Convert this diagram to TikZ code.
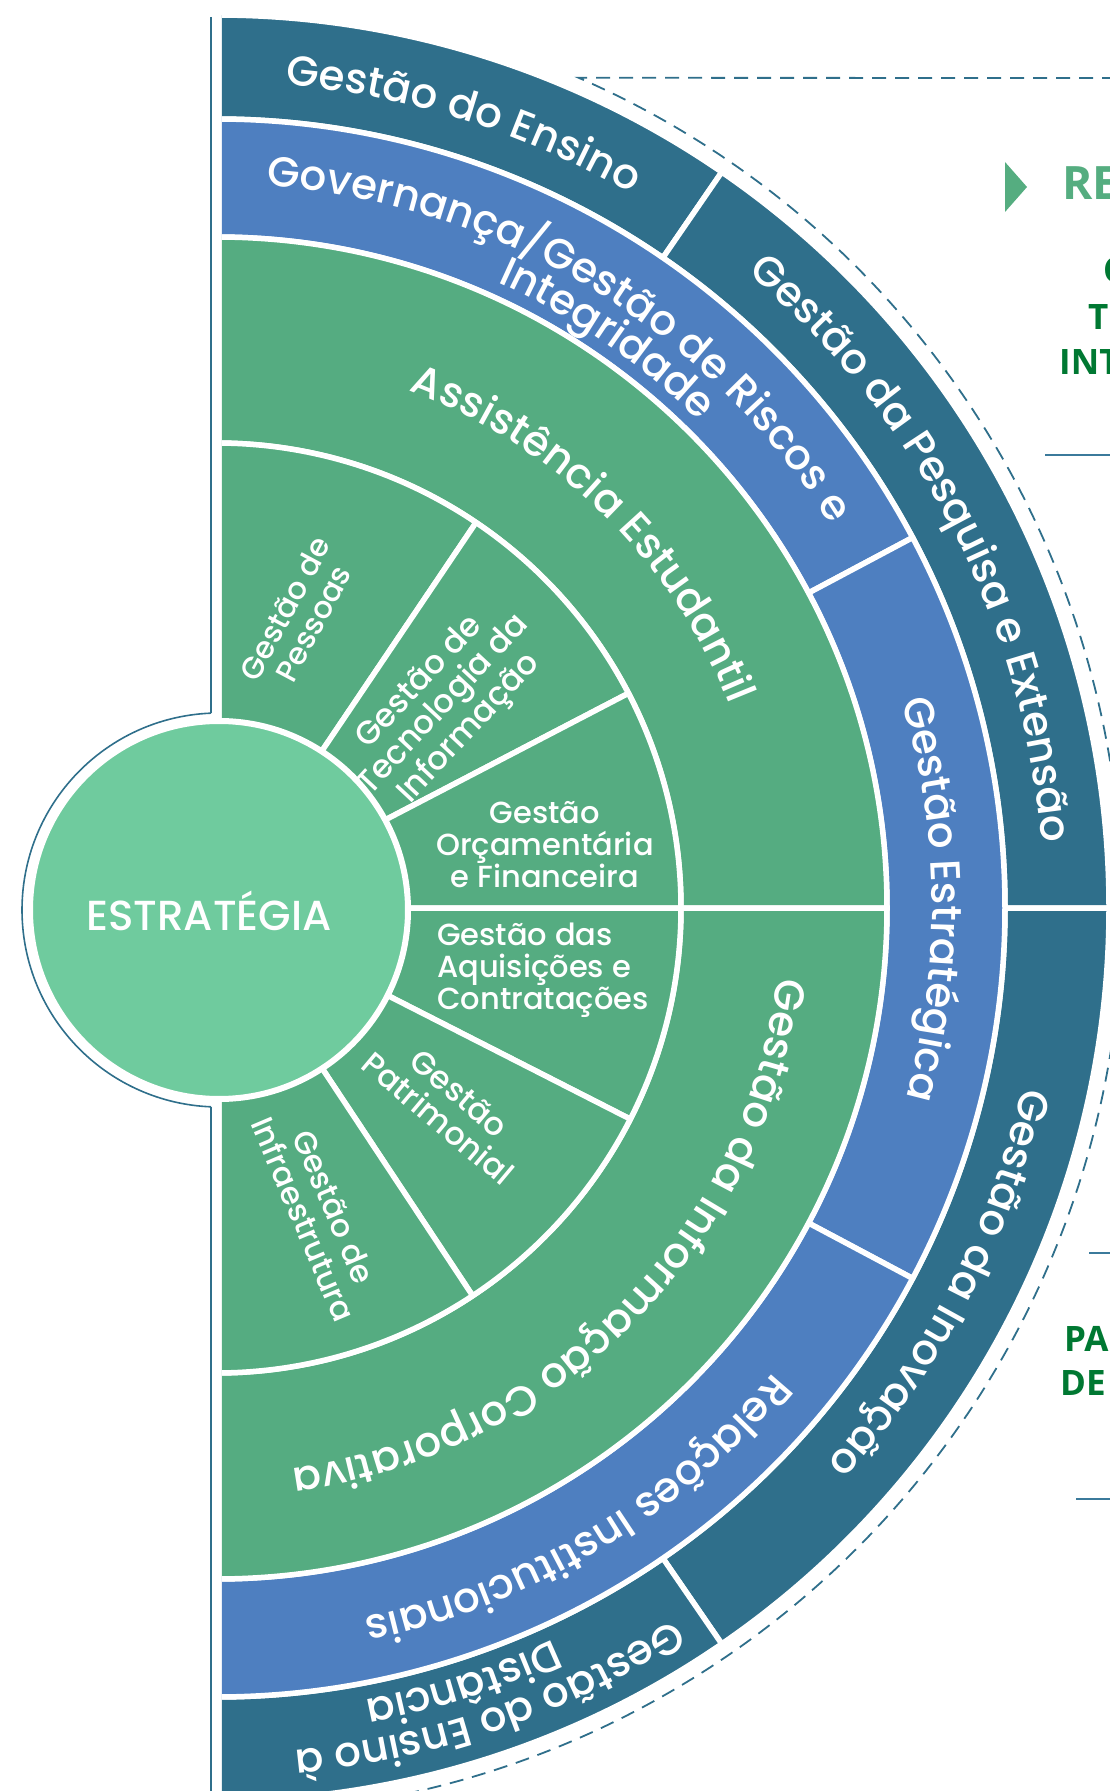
\documentclass[tikz,border=0pt]{standalone}
\usepackage{fontspec}
\IfFontExistsTF{Poppins Medium}{\newfontfamily\popfont{Poppins Medium}}{\newfontfamily\popfont{Poppins}}
\newfontfamily\sidefont{Open Sans}
\usetikzlibrary{decorations.text}
\definecolor{dteal}{HTML}{2F6F8B}
\definecolor{mblue}{HTML}{4E7FC0}
\definecolor{rgreen}{HTML}{55AC81}
\definecolor{lgreen}{HTML}{6FCB9E}
\definecolor{dgreen}{RGB}{0,120,50}
\definecolor{tgreen}{HTML}{55AD80}
\definecolor{lineblue}{HTML}{3B7A9B}
\tikzset{
  sectorstyle/.style={draw=white, line width=5.5pt, line join=round},
  innertext/.style={text=white, font=\fontsize{30.5}{32}\popfont, align=center, inner sep=0pt},
  sidetext/.style={font=\fontsize{35}{42}\sidefont\bfseries, text=dgreen, anchor=base west, inner sep=0pt},
  sideline/.style={draw=lineblue, line width=2pt}
}
\newcommand{\ringsect}[5]{\filldraw[sectorstyle, fill=#1] (#2:#4pt) arc[start angle=#2, end angle=#3, radius=#4pt] -- (#3:#5pt) arc[start angle=#3, end angle=#2, radius=#5pt] -- cycle;}
\newcommand{\arctext}[5]{\path[decorate, decoration={text along path, text align=center, text color=white, text={|\fontsize{#4}{#4}\popfont|#5}}] ({#2+#3}:#1pt) arc[start angle={#2+#3}, end angle={#2-#3}, radius=#1pt];}
\begin{document}
\begin{tikzpicture}[x=1pt,y=1pt]
\useasboundingbox (-216,-883) rectangle (894,908);
\begin{scope}
\clip (6,-900) rectangle (900,912);
% dark ring
\ringsect{dteal}{90}{55.5}{789}{893}
\ringsect{dteal}{55.5}{0}{789}{893}
\ringsect{dteal}{0}{-55.5}{789}{893}
\ringsect{dteal}{-55.5}{-90}{789}{893}
% blue ring
\ringsect{mblue}{90}{28}{671}{789}
\ringsect{mblue}{28}{-28}{671}{789}
\ringsect{mblue}{-28}{-90}{671}{789}
% green ring
\ringsect{rgreen}{90}{0}{465}{671}
\ringsect{rgreen}{0}{-90}{465}{671}
% inner sectors
\ringsect{rgreen}{90}{56}{10}{465}
\ringsect{rgreen}{56}{27.5}{10}{465}
\ringsect{rgreen}{27.5}{0}{10}{465}
\ringsect{rgreen}{0}{-27}{10}{465}
\ringsect{rgreen}{-27}{-56.5}{10}{465}
\ringsect{rgreen}{-56.5}{-90}{10}{465}
\end{scope}
% centre circle
\node[circle, fill=lgreen, draw=white, line width=6pt, minimum size=378pt, inner sep=0pt] (estr) at (3,-2) {};
\draw[dteal, line width=2.5pt] (-5,891) -- (-5,194.84);
\draw[dteal, line width=1.6pt] (-5,194.84) arc[start angle=92.33, end angle=267.67, radius=197pt];
\draw[dteal, line width=2.5pt] (-5,-198.84) -- (-5,-890);
\node[text=white, font=\fontsize{42}{42}\popfont, anchor=base, inner sep=0pt] (estrtext) at (-7,-22) {ESTRATÉGIA};
% dashed frame
\draw[dteal, line width=1.8pt, dash pattern=on 14pt off 9pt] (900,830) -- (66.4:906pt) arc[start angle=66.4, end angle=-85, radius=906pt];
% curved labels
\arctext{826}{72.5}{17}{42}{Gestão do Ensino}
\arctext{828}{27.3}{28}{42}{Gestão da Pesquisa e Extensão}
\arctext{826}{-27.4}{27}{42}{Gestão da Inovação}
\arctext{846}{-71}{19}{42}{Gestão do Ensino à}
\arctext{806}{-72.3}{16}{42}{Distância}
\arctext{724}{59}{34}{42}{Governança/Gestão de Riscos e}
\arctext{686}{55.5}{25}{42}{Integridade}
\arctext{716}{0.7}{28}{42}{Gestão Estratégica}
\arctext{725}{-59}{32}{42}{Relações Institucionais}
\arctext{552}{45.6}{43}{42}{Assistência Estudantil}
\arctext{566}{-44.7}{47}{42}{Gestão da Informação Corporativa}
% inner labels
\node[innertext, rotate=62] (pess) at (83,292) {Gestão de\\Pessoas};
\node[innertext, rotate=47, font=\fontsize{32.5}{33}\popfont] (ti) at (229,202) {Gestão de\\Tecnologia da\\Informação};
\node[innertext] (orc) at (329,63) {Gestão\\Orçamentária\\e Financeira};
\node[innertext, align=left, anchor=west] (aqu) at (221,-62) {Gestão das\\Aquisições e\\Contratações};
\node[innertext, rotate=-40, font=\fontsize{32}{33}\popfont] (pat) at (233,-198) {Gestão\\Patrimonial};
\node[innertext, rotate=-67, font=\fontsize{31.5}{33}\popfont] (infra) at (103,-305) {Gestão de\\Infraestrutura};
% right side (cut off)
\fill[tgreen] (789,746) -- (811,721) -- (789,696) -- cycle;
\node[sidetext, text=tgreen, font=\fontsize{46}{50}\sidefont\bfseries] (re) at (846,708) {RE};
\node[sidetext] (c1) at (887,625) {C};
\node[sidetext] (t1) at (872,578) {TI};
\node[sidetext] (i1) at (843,533) {INT};
\node[sidetext] (pa) at (848,-443) {PA};
\node[sidetext] (de) at (844,-487) {DE};
\coordinate (l1a) at (829,453); \coordinate (l1b) at (900,453);
\coordinate (l2a) at (873,-345); \coordinate (l2b) at (900,-345);
\coordinate (l3a) at (860,-591); \coordinate (l3b) at (900,-591);
\draw[sideline] (l1a) -- (l1b);
\draw[sideline] (l2a) -- (l2b);
\draw[sideline] (l3a) -- (l3b);
\end{tikzpicture}
\end{document}
